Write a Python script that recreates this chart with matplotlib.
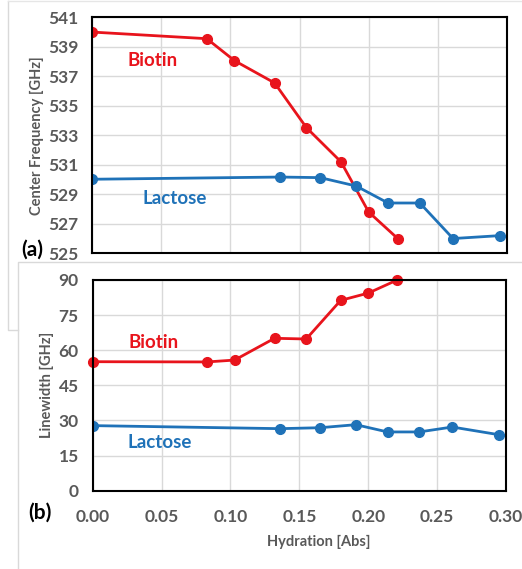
import matplotlib.pyplot as plt
from matplotlib.lines import Line2D

# values
biotin_x = [0.0, 0.083, 0.103, 0.132, 0.155, 0.180, 0.200, 0.221]
biotin_freq = [540.0, 539.55, 538.06, 536.55, 533.52, 531.2, 527.8, 526.0]
biotin_width = [55.1, 55.0, 55.8, 65.1, 64.8, 81.3, 84.4, 90.0]

lactose_x = [0.0, 0.136, 0.165, 0.191, 0.214, 0.237, 0.261, 0.295]
lactose_freq = [530.02, 530.17, 530.13, 529.56, 528.41, 528.41, 526.0, 526.2]
lactose_width = [27.8, 26.5, 26.9, 28.2, 25.1, 25.1, 27.2, 23.9]

freq_ticks = [525, 527, 529, 531, 533, 535, 537, 539, 541]
width_ticks = [0, 15, 30, 45, 60, 75, 90]
x_ticks = [0.0, 0.05, 0.10, 0.15, 0.20, 0.25, 0.30]

red = '#e8141c'
blue = '#1f72b8'
gray = '#595959'
font = 'Lato'

W, H = 522, 569
fig = plt.figure(figsize=(W / 100, H / 100), dpi=100)


def fx(px):
    return px / W


def fy(py):
    return 1 - py / H


# faint frames of the two pasted chart images
fig.add_artist(Line2D([fx(8), fx(8), fx(18)], [fy(1), fy(330), fy(330)],
                      color='#d9d9d9', lw=1, transform=fig.transFigure))
fig.add_artist(Line2D([fx(8), fx(522)], [fy(1), fy(1)],
                      color='#e6e6e6', lw=1, transform=fig.transFigure))
fig.add_artist(Line2D([fx(18), fx(18), fx(522)], [fy(569), fy(262), fy(262)],
                      color='#d9d9d9', lw=1, transform=fig.transFigure))

ax1 = fig.add_axes([fx(92), fy(253.3), fx(507) - fx(92), fy(17.3) - fy(253.3)])
ax2 = fig.add_axes([fx(92.7), fy(490.7), fx(506) - fx(92.7), fy(280) - fy(490.7)])


def style(ax):
    ax.grid(True, color='#d9d9d9', lw=1)
    ax.set_axisbelow(True)
    for s in ax.spines.values():
        s.set_linewidth(1.5)
        s.set_color('black')
    ax.tick_params(length=0, colors=gray, labelsize=12.5)
    for lab in ax.get_xticklabels() + ax.get_yticklabels():
        lab.set_fontfamily(font)
        lab.set_fontweight('bold')


ax1.plot(biotin_x, biotin_freq, '-o', color=red, lw=2, ms=7)
ax1.plot(lactose_x, lactose_freq, '-o', color=blue, lw=2, ms=7)
ax1.set_xlim(0, 0.30)
ax1.set_ylim(525, 541)
ax1.set_yticks(freq_ticks)
ax1.set_xticks(x_ticks)
ax1.set_xticklabels([])
ax1.tick_params(axis='y', pad=10)
style(ax1)
ax1.set_ylabel('Center Frequency [GHz]', fontfamily=font, fontweight='bold',
               color=gray, fontsize=10.5, va='center')
ax1.yaxis.set_label_coords(-0.1325, 0.5)

ax2.plot(biotin_x, biotin_width, '-o', color=red, lw=2, ms=7, clip_on=False)
ax2.plot(lactose_x, lactose_width, '-o', color=blue, lw=2, ms=7)
ax2.set_xlim(0, 0.30)
ax2.set_ylim(0, 90)
ax2.set_yticks(width_ticks)
ax2.set_xticks(x_ticks)
ax2.set_xticklabels(['%.2f' % t for t in x_ticks])
ax2.tick_params(axis='y', pad=10)
ax2.tick_params(axis='x', pad=13)
style(ax2)
ax2.set_ylabel('Linewidth [GHz]', fontfamily=font, fontweight='bold',
               color=gray, fontsize=10.5, va='center')
ax2.yaxis.set_label_coords(-0.1106, 0.5)
ax2.set_xlabel('Hydration [Abs]', fontfamily=font, fontweight='bold',
               color=gray, fontsize=10.5, va='center')
ax2.xaxis.set_label_coords(0.5476, -0.2435)

fig.text(fx(32), fy(250), '(a)', fontfamily=font, fontweight='bold', fontsize=15,
         ha='center', va='center')
fig.text(fx(40), fy(513), '(b)', fontfamily=font, fontweight='bold', fontsize=15,
         ha='center', va='center')
fig.text(fx(153), fy(61), 'Biotin', color=red, fontfamily=font, fontweight='bold',
         fontsize=13.5, ha='center', va='center')
fig.text(fx(175), fy(199), 'Lactose', color=blue, fontfamily=font, fontweight='bold',
         fontsize=13.5, ha='center', va='center')
fig.text(fx(154), fy(343), 'Biotin', color=red, fontfamily=font, fontweight='bold',
         fontsize=13.5, ha='center', va='center')
fig.text(fx(160), fy(443), 'Lactose', color=blue, fontfamily=font, fontweight='bold',
         fontsize=13.5, ha='center', va='center')

fig.savefig('out.png', dpi=100)
